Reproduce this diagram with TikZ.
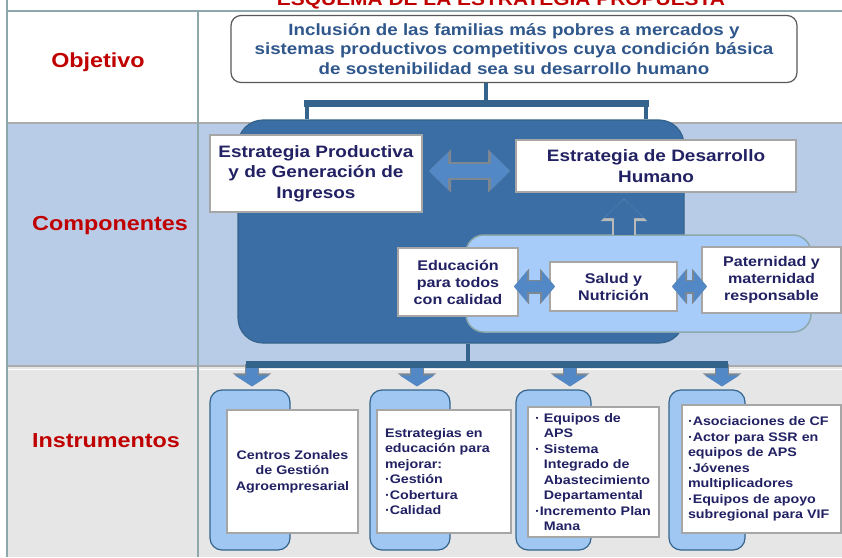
\documentclass[tikz,border=0pt]{standalone}
\usepackage{fontspec}
\setmainfont{Liberation Sans}[FakeStretch=1.15]
\usetikzlibrary{arrows.meta}

\definecolor{labelred}{RGB}{192,0,0}
\definecolor{navytext}{RGB}{33,33,99}
\definecolor{objtext}{RGB}{47,87,140}
\definecolor{rowblue}{RGB}{184,204,232}
\definecolor{rowgray}{RGB}{230,230,230}
\definecolor{gridline}{RGB}{140,168,170}
\definecolor{bigblue}{RGB}{58,110,165}
\definecolor{paleblue}{RGB}{168,204,250}
\definecolor{tabblue}{RGB}{160,198,242}
\definecolor{arrowblue}{RGB}{82,136,198}
\definecolor{arrowedge}{RGB}{125,135,145}
\definecolor{barblue}{RGB}{52,100,140}

\tikzset{
  rowlabel/.style={text=labelred, font=\fontsize{20.3}{24}\selectfont\bfseries},
  objbox/.style={draw=gray!70!black, line width=1.2pt, fill=white, rounded corners=10pt,
    align=center, text=objtext, font=\fontsize{16.3}{19.5}\selectfont\bfseries},
  whitebox/.style={draw=gray!70, line width=2pt, fill=white, text=navytext, inner sep=2pt,
    align=center, font=\fontsize{16.5}{20.5}\selectfont\bfseries},
  smallbox/.style={whitebox, font=\fontsize{14}{17}\selectfont\bfseries},
  cardbox/.style={whitebox, font=\fontsize{12.4}{15.5}\selectfont\bfseries},
  tabbox/.style={draw=barblue, line width=1.2pt, fill=tabblue, rounded corners=12pt},
  stem/.style={draw=barblue, line width=4pt},
  bar/.style={draw=barblue, line width=7pt},
  dblarrow/.style={draw=arrowblue, line width=14pt,
    {Triangle[width=36pt,length=19pt]}-{Triangle[width=36pt,length=19pt]},
    preaction={draw=arrowedge, line width=18pt,
      {Triangle[width=42pt,length=22pt]}-{Triangle[width=42pt,length=22pt]}}},
  minidbl/.style={draw=arrowblue, line width=11pt,
    {Triangle[width=30pt,length=13pt]}-{Triangle[width=30pt,length=13pt]},
    preaction={draw=arrowedge, line width=14pt,
      {Triangle[width=35pt,length=15pt]}-{Triangle[width=35pt,length=15pt]}}},
  uparrow/.style={draw=bigblue, line width=20pt, -{Triangle[width=39pt,length=19pt]},
    preaction={draw=gray!55, line width=24pt, -{Triangle[width=45pt,length=22pt]}}},
  downarrow/.style={draw=arrowblue, line width=12pt, -{Triangle[width=34pt,length=11pt]},
    preaction={draw=arrowedge, line width=14pt, -{Triangle[width=38pt,length=13pt]}}}
}

\begin{document}
\begin{tikzpicture}[x=1pt,y=-1pt]
\useasboundingbox (0,0) rectangle (842,557);

% rows of the table
\fill[white] (0,0) rectangle (842,557);
\fill[rowblue] (7,123) rectangle (842,366);
\fill[rowgray] (7,366) rectangle (842,557);
\draw[gridline, line width=1.5pt] (7,11) -- (842,11);
\draw[gray!65, line width=2pt] (7,123) -- (842,123);
\draw[gray!65, line width=2pt] (7,366) -- (842,366);
\draw[white, line width=1.5pt] (7,369.5) -- (842,369.5);
\draw[gridline, line width=1.5pt] (7,0) -- (7,557);
\draw[gridline, line width=1.2pt] (198,11) -- (198,557);

\node[anchor=base, text=labelred, font=\fontsize{18.2}{22}\selectfont\bfseries] (title) at (501,5) {ESQUEMA DE LA ESTRATEGIA PROPUESTA};

% row labels
\node[rowlabel] (lobj) at (98,62) {Objetivo};
\node[rowlabel] (lcomp) at (110,226) {Componentes};
\node[rowlabel] (linst) at (106,441) {Instrumentos};

% objetivo
\node[objbox, minimum width=566pt, minimum height=67pt] (obj) at (514,49)
  {Inclusión de las familias más pobres a mercados y\\sistemas productivos competitivos cuya condición básica\\de sostenibilidad sea su desarrollo humano};

% componentes
\node[draw=barblue, line width=1.2pt, fill=bigblue, rounded corners=25pt,
  minimum width=446pt, minimum height=223pt] (big) at (461,231.5) {};
\node[draw=gridline, line width=1.5pt, fill=paleblue, rounded corners=18pt,
  minimum width=345pt, minimum height=97pt] (light) at (638.5,283.5) {};

\node[whitebox, minimum width=212pt, minimum height=77pt] (prod) at (316,173.5)
  {Estrategia Productiva\\y de Generación de\\Ingresos};
\node[whitebox, minimum width=280pt, minimum height=52pt] (dh) at (656,166)
  {Estrategia de Desarrollo\\Humano};
\node[smallbox, minimum width=120pt, minimum height=68pt] (edu) at (458,282)
  {Educación\\para todos\\con calidad};
\node[smallbox, minimum width=127pt, minimum height=49pt] (salud) at (613.5,286.5)
  {Salud y\\Nutrición};
\node[smallbox, minimum width=139pt, minimum height=66pt] (pater) at (771.5,280)
  {Paternidad y\\maternidad\\responsable};

\draw[dblarrow, shorten <=6pt, shorten >=5pt] (prod.east |- 0,171) -- (dh.west |- 0,171);
\draw[minidbl, shorten <=-5pt, shorten >=-6pt] (salud.west -| edu.east) -- (salud.west);
\draw[minidbl, shorten <=-6pt, shorten >=-6pt] (salud.east) -- (salud.east -| pater.west);
\coordinate (upfoot) at (624,235);
\draw[uparrow, shorten >=6pt] (upfoot) -- (upfoot |- dh.south);

% connectors objetivo -> componentes
\coordinate (topjoin) at (486,103);
\coordinate (tl) at (307,103);
\coordinate (tr) at (646,103);
\draw[stem] (topjoin |- obj.south) -- (topjoin);
\draw[stem] (tl) -- (tl |- big.north);
\draw[stem] (tr) -- (tr |- big.north);
\draw[bar] ([xshift=-3pt]tl) -- ([xshift=3pt]tr);

% instrumentos
\node[tabbox, minimum width=80pt, minimum height=160pt] (t1) at (250,470) {};
\node[tabbox, minimum width=80pt, minimum height=160pt] (t2) at (410,470) {};
\node[tabbox, minimum width=75pt, minimum height=160pt] (t3) at (553.5,470) {};
\node[tabbox, minimum width=76pt, minimum height=160pt] (t4) at (707,470) {};

\node[cardbox, minimum width=131pt, minimum height=123pt] (c1) at (292.5,471.5)
  {Centros Zonales\\de Gestión\\Agroempresarial};
\node[cardbox, align=left, inner xsep=8pt, text width=118pt, minimum height=123pt] (c2) at (444,471.5)
  {Estrategias en\\educación para\\mejorar:\\·Gestión\\·Cobertura\\·Calidad};
\node[cardbox, align=left, inner xsep=7pt, text width=117pt, minimum height=130pt] (c3) at (593.5,472)
  {· Equipos de\\\phantom{· }APS\\· Sistema\\\phantom{· }Integrado de\\\phantom{· }Abastecimiento\\\phantom{· }Departamental\\·Incremento Plan\\\phantom{· }Mana};
\node[cardbox, align=left, inner xsep=6pt, text width=147pt, minimum height=128pt] (c4) at (761.5,469)
  {·Asociaciones de CF\\·Actor para SSR en\\equipos de APS\\·Jóvenes\\multiplicadores\\·Equipos de apoyo\\subregional para VIF};

% connectors componentes -> instrumentos
\coordinate (botjoin) at (468,364);
\coordinate (b1) at (252,364);
\coordinate (b2) at (417,364);
\coordinate (b3) at (570,364);
\coordinate (b4) at (722,364);
\draw[stem] (botjoin |- big.south) -- (botjoin);
\draw[downarrow, shorten >=3pt] (b1) -- (b1 |- t1.north);
\draw[downarrow, shorten >=3pt] (b2) -- (b2 |- t2.north);
\draw[downarrow, shorten >=3pt] (b3) -- (b3 |- t3.north);
\draw[downarrow, shorten >=3pt] (b4) -- (b4 |- t4.north);
\draw[bar] ([xshift=-6pt]b1) -- ([xshift=6pt]b4);
\end{tikzpicture}
\end{document}
